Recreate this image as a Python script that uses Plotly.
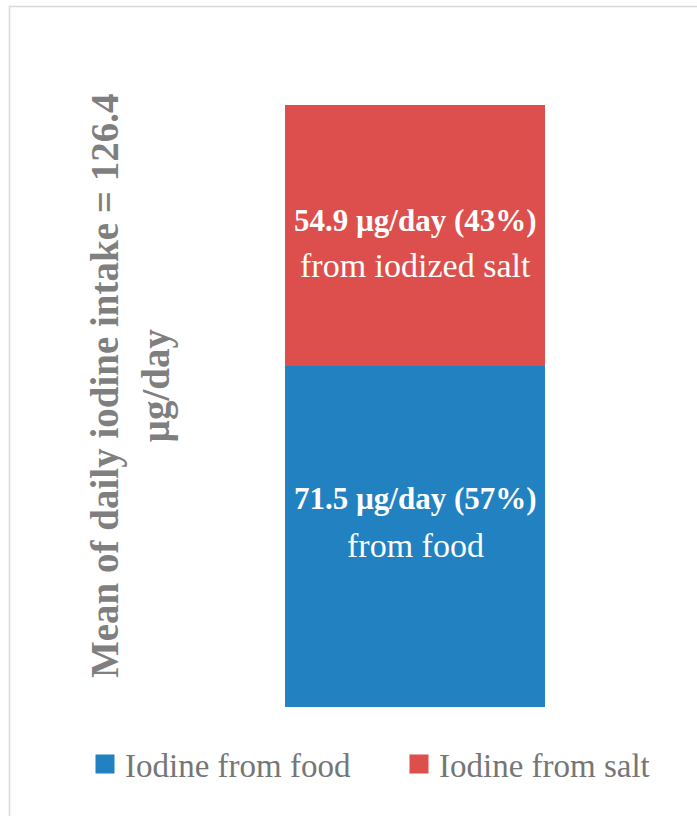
import plotly.graph_objects as go

# ---- data ----
category = ["Mean"]
series_names = ["Iodine from food", "Iodine from salt"]
food_values = [71.5]
salt_values = [54.9]
food_pct = [57]
salt_pct = [43]
food_desc = "from food"
salt_desc = "from iodized salt"

# ---- style ----
BLUE = "#2181C1"
RED = "#DD4F4C"
GRAY = "#7F7F7F"
FONT = "Palatino Linotype, Book Antiqua, Palatino, Liberation Serif, serif"

W, H = 697, 816
ML, MR, MT, MB = 155, 22, 105, 109
PW, PH = W - ML - MR, H - MT - MB


def px_x(px):
    return (px - ML) / PW


def px_y(py):
    return (H - MB - py) / PH


total = food_values[0] + salt_values[0]

fig = go.Figure()
fig.add_trace(go.Bar(x=category, y=food_values, name=series_names[0],
                     marker=dict(color=BLUE, line=dict(width=0)), showlegend=False,
                     hoverinfo="skip"))
fig.add_trace(go.Bar(x=category, y=salt_values, name=series_names[1],
                     marker=dict(color=RED, line=dict(width=0)), showlegend=False,
                     hoverinfo="skip"))
# legend entries (square swatches), one legend box per entry
for nm, col, lg in zip(series_names, [BLUE, RED], ["legend", "legend2"]):
    fig.add_trace(go.Scatter(x=[None], y=[None], mode="markers", name=nm, legend=lg,
                             marker=dict(symbol="square", size=16, color=col,
                                         line=dict(color=col, width=3))))

annotations = []
# bar labels
labels = [
    (food_values[0] / 2, f"<b>{food_values[0]} µg/day ({food_pct[0]}%)</b>", 31, 38),
    (food_values[0] / 2, food_desc, 34, -9),
    (food_values[0] + salt_values[0] / 2, f"<b>{salt_values[0]} µg/day ({salt_pct[0]}%)</b>", 31, 15),
    (food_values[0] + salt_values[0] / 2, salt_desc, 34, -30),
]
for yv, txt, sz, ys in labels:
    annotations.append(dict(x=category[0], y=yv, xref="x", yref="y", text=txt,
                            showarrow=False, yshift=ys, xanchor="center", yanchor="middle",
                            font=dict(family=FONT, size=sz, color="white")))

# y title
annotations.append(dict(
    x=px_x(130), y=px_y(386), xref="paper", yref="paper",
    text=f"<b>Mean of daily iodine intake = {total:.1f}<br>µg/day</b>",
    textangle=-90, showarrow=False, xanchor="center", yanchor="middle", align="center",
    font=dict(family=FONT, size=39, color=GRAY)))

legend_style = dict(orientation="h", xanchor="left", yanchor="middle",
                    font=dict(family=FONT, size=33, color="#767676"),
                    itemwidth=30, bgcolor="rgba(0,0,0,0)")

fig.update_layout(
    width=W, height=H,
    margin=dict(l=ML, r=MR, t=MT, b=MB),
    paper_bgcolor="white", plot_bgcolor="white",
    barmode="stack", bargap=0.5,
    xaxis=dict(visible=False),
    yaxis=dict(visible=False, range=[0, total]),
    showlegend=True,
    legend=dict(x=px_x(85), y=px_y(764), **legend_style),
    legend2=dict(x=px_x(399), y=px_y(764), **legend_style),
    annotations=annotations,
    shapes=[dict(type="rect", xref="paper", yref="paper",
                 x0=px_x(9.5), x1=px_x(710), y0=px_y(830), y1=px_y(6.5),
                 line=dict(color="#D9D9D9", width=1.5), fillcolor="rgba(0,0,0,0)",
                 layer="below")],
)

fig.write_html("out.html", config={"displayModeBar": False},
               post_script="document.body.style.margin='0';")
